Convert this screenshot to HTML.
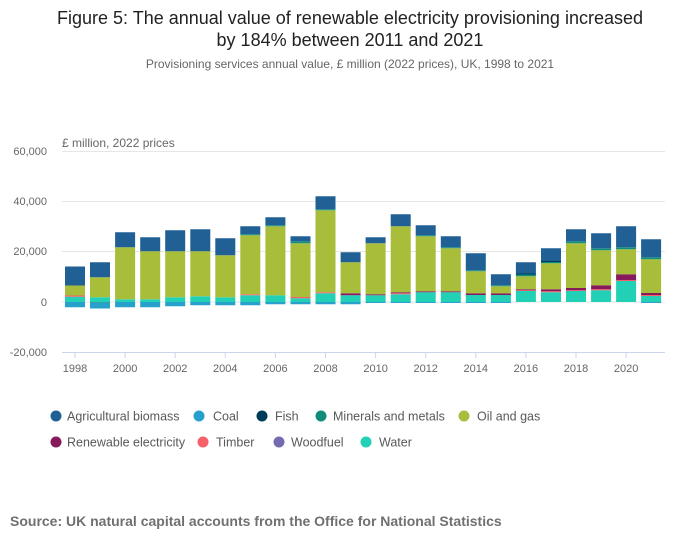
<!DOCTYPE html>
<html><head><meta charset="utf-8"><style>
body{margin:0;background:#fff;}
svg{display:block;font-family:"Liberation Sans",sans-serif;}
</style></head><body>
<svg id="s" width="700" height="549" viewBox="0 0 700 549" xmlns="http://www.w3.org/2000/svg">
<rect width="700" height="549" fill="#fff"/>
<text x="350" y="24" text-anchor="middle" font-size="18" fill="#222">Figure 5: The annual value of renewable electricity provisioning increased</text>
<text x="350" y="46" text-anchor="middle" font-size="18" fill="#222">by 184% between 2011 and 2021</text>
<text x="350" y="68" text-anchor="middle" font-size="12" fill="#666">Provisioning services annual value, £ million (2022 prices), UK, 1998 to 2021</text>
<text x="62" y="147" font-size="12" fill="#666">£ million, 2022 prices</text>
<g stroke="#e6e6e6" stroke-width="1">
<line x1="62" x2="665" y1="151.5" y2="151.5"/>
<line x1="62" x2="665" y1="201.5" y2="201.5"/>
<line x1="62" x2="665" y1="251.5" y2="251.5"/>
<line x1="62" x2="665" y1="302" y2="302"/>
</g>
<g font-size="11" fill="#666" text-anchor="end">
<text x="47" y="155">60,000</text>
<text x="47" y="205">40,000</text>
<text x="47" y="255">20,000</text>
<text x="47" y="306">0</text>
<text x="47" y="356">-20,000</text>
</g>
<g id="bars"></g>
<line x1="62" x2="665" y1="352.5" y2="352.5" stroke="#ccd6eb"/>
<g id="xt" font-size="11" fill="#666" text-anchor="middle"></g>
<g font-size="12.5" fill="#595959">
<circle cx="56" cy="416" r="5.5" fill="#206095"/><text x="67" y="420.5">Agricultural biomass</text>
<circle cx="199" cy="416" r="5.5" fill="#27a0cc"/><text x="213" y="420.5">Coal</text>
<circle cx="262" cy="416" r="5.5" fill="#003c57"/><text x="275" y="420.5">Fish</text>
<circle cx="321" cy="416" r="5.5" fill="#118c7b"/><text x="333" y="420.5">Minerals and metals</text>
<circle cx="464" cy="416" r="5.5" fill="#a8bd3a"/><text x="477" y="420.5">Oil and gas</text>
<circle cx="56" cy="442" r="5.5" fill="#871a5b"/><text x="67" y="446.5">Renewable electricity</text>
<circle cx="203" cy="442" r="5.5" fill="#f66068"/><text x="216" y="446.5">Timber</text>
<circle cx="279" cy="442" r="5.5" fill="#746cb1"/><text x="291" y="446.5">Woodfuel</text>
<circle cx="366" cy="442" r="5.5" fill="#22d0b6"/><text x="379" y="446.5">Water</text>
</g>
<text x="10" y="526" font-size="14" font-weight="bold" fill="#707070">Source: UK natural capital accounts from the Office for National Statistics</text>
</svg>
<script>
var C={b:"#206095",c:"#27a0cc",f:"#003c57",m:"#118c7b",o:"#a8bd3a",r:"#871a5b",t:"#f66068",w:"#22d0b6"};
// order bottom-up: w,t,r,o,m,f,b ; negatives: c, m
var D=[
{neg:[["c",2.1]],pos:[["w",2.1],["t",0.5],["o",4],["b",7.6]]},
{neg:[["m",0.3],["c",2.3]],pos:[["w",1.9],["o",8],["b",6]]},
{neg:[["c",2.1]],pos:[["w",1.1],["o",20.8],["b",6]]},
{neg:[["c",2.1]],pos:[["w",1.1],["o",19.2],["b",5.6]]},
{neg:[["c",1.7]],pos:[["w",1.9],["o",18.4],["b",8.4]]},
{neg:[["c",1.3]],pos:[["w",2.3],["o",18],["b",8.8]]},
{neg:[["c",1.3]],pos:[["w",1.9],["o",16.8],["b",6.8]]},
{neg:[["c",1.3]],pos:[["w",2.7],["t",0.4],["o",23.6],["m",0.4],["b",3.2]]},
{neg:[["c",0.9]],pos:[["w",2.7],["o",27.6],["m",0.4],["b",3.2]]},
{neg:[["c",0.9]],pos:[["w",1.5],["t",0.5],["o",21.5],["m",0.8],["b",2]]},
{neg:[["c",0.9]],pos:[["w",3.5],["t",0.4],["o",32.8],["m",0.4],["b",5.2]]},
{neg:[["c",0.9]],pos:[["w",2.7],["r",0.8],["o",12.4],["b",4]]},
{neg:[["c",0.4]],pos:[["w",2.7],["r",0.4],["o",20.4],["b",2.4]]},
{neg:[["c",0.4]],pos:[["w",3.1],["t",0.4],["r",0.4],["o",26.4],["b",4.8]]},
{neg:[["c",0.4]],pos:[["w",3.9],["r",0.4],["o",22],["m",0.4],["b",4]]},
{neg:[["c",0.4]],pos:[["w",3.9],["r",0.4],["o",17.2],["m",0.4],["b",4.4]]},
{neg:[["c",0.4]],pos:[["w",2.8],["r",0.7],["o",8.8],["m",0.4],["b",6.8]]},
{neg:[["c",0.4]],pos:[["w",2.8],["r",0.7],["o",2.8],["m",0.4],["b",4.4]]},
{neg:[],pos:[["w",4.4],["t",0.3],["r",0.4],["o",5.2],["m",0.7],["f",0.4],["b",4.5]]},
{neg:[],pos:[["w",3.9],["t",0.4],["r",0.8],["o",10.4],["m",0.5],["f",0.4],["b",5.1]]},
{neg:[],pos:[["w",4.4],["t",0.3],["r",0.9],["o",17.9],["m",0.8],["b",4.8]]},
{neg:[],pos:[["w",4.7],["t",0.4],["r",1.6],["o",14],["m",0.8],["b",6]]},
{neg:[],pos:[["w",8.4],["t",0.4],["r",2.3],["o",10],["m",0.8],["b",8.4]]},
{neg:[["c",0.4]],pos:[["w",2.4],["t",0.4],["r",0.8],["o",13.5],["m",0.8],["b",7.2]]}
];
var Z=302,K=2.5,h="";
D.forEach(function(d,i){
 var x=65+i*25.05, y=Z;
 d.pos.forEach(function(s){var hh=s[1]*K;y-=hh;h+='<rect x="'+x.toFixed(1)+'" y="'+y.toFixed(2)+'" width="20" height="'+hh.toFixed(2)+'" fill="'+C[s[0]]+'"/>';});
 y=Z;
 d.neg.forEach(function(s){var hh=s[1]*K;h+='<rect x="'+x.toFixed(1)+'" y="'+y.toFixed(2)+'" width="20" height="'+hh.toFixed(2)+'" fill="'+C[s[0]]+'"/>';y+=hh;});
});
document.getElementById("bars").innerHTML=h;
var t="";
for(var yr=1998;yr<=2020;yr+=2){var x=75+(yr-1998)*25.05;t+='<line x1="'+x+'" x2="'+x+'" y1="352" y2="358" stroke="#ccd6eb"/><text x="'+x+'" y="372">'+yr+'</text>';}
document.getElementById("xt").innerHTML=t;
</script>
</body></html>
